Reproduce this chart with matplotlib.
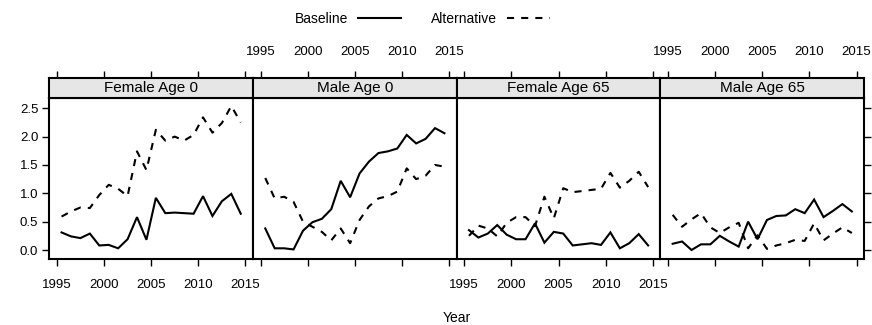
import matplotlib
matplotlib.use("Agg")
import matplotlib.pyplot as plt
from matplotlib.lines import Line2D
import numpy as np

plt.rcParams['font.family'] = ['Liberation Sans', 'DejaVu Sans']

# ---- data ----
years = list(range(1995, 2015))
panels = ["Female Age 0", "Male Age 0", "Female Age 65", "Male Age 65"]
female0_base = [0.31, 0.24, 0.21, 0.29, 0.08, 0.09, 0.03, 0.19, 0.58, 0.18, 0.92, 0.65, 0.66, 0.65, 0.64, 0.95, 0.60, 0.86, 0.99, 0.64]
female0_alt = [0.59, 0.68, 0.75, 0.74, 0.97, 1.15, 1.08, 0.95, 1.74, 1.41, 2.12, 1.93, 2.00, 1.93, 2.03, 2.34, 2.07, 2.24, 2.54, 2.25]
male0_base = [0.38, 0.03, 0.03, 0.01, 0.34, 0.49, 0.55, 0.72, 1.22, 0.93, 1.35, 1.56, 1.71, 1.74, 1.79, 2.03, 1.88, 1.96, 2.15, 2.06]
male0_alt = [1.27, 0.91, 0.94, 0.85, 0.50, 0.41, 0.32, 0.17, 0.38, 0.12, 0.53, 0.77, 0.91, 0.95, 1.03, 1.44, 1.25, 1.31, 1.50, 1.47]
female65_base = [0.35, 0.22, 0.29, 0.44, 0.27, 0.19, 0.19, 0.47, 0.13, 0.32, 0.29, 0.08, 0.10, 0.12, 0.09, 0.31, 0.03, 0.12, 0.28, 0.08]
female65_alt = [0.25, 0.43, 0.38, 0.24, 0.48, 0.58, 0.58, 0.42, 0.94, 0.56, 1.09, 1.02, 1.04, 1.06, 1.08, 1.36, 1.10, 1.22, 1.38, 1.11]
male65_base = [0.11, 0.15, 0.00, 0.10, 0.10, 0.25, 0.15, 0.06, 0.50, 0.19, 0.53, 0.60, 0.61, 0.72, 0.65, 0.89, 0.58, 0.69, 0.81, 0.68]
male65_alt = [0.62, 0.41, 0.54, 0.65, 0.40, 0.30, 0.40, 0.48, 0.03, 0.26, 0.02, 0.08, 0.12, 0.18, 0.16, 0.47, 0.17, 0.29, 0.40, 0.30]
baseline = [female0_base, male0_base, female65_base, male65_base]
alternative = [female0_alt, male0_alt, female65_alt, male65_alt]
xticks = [1995, 2000, 2005, 2010, 2015]
yticks = [0.0, 0.5, 1.0, 1.5, 2.0, 2.5]

W, H = 872, 325
fig = plt.figure(figsize=(W / 100, H / 100), dpi=100)

left0 = 49.3
pw = 203.7
ptop, pbot = 97.5, 259.3
stop = 77.7
dash = (0, (3.4, 3.4))
lw = 1.5
tickfs = 9.5

x = np.array(years) + 0.5
for i, name in enumerate(panels):
    l = (left0 + i * pw) / W
    ax = fig.add_axes([l, 1 - pbot / H, pw / W, (pbot - ptop) / H])
    ax.plot(x, baseline[i], color='black', lw=lw, solid_joinstyle='miter')
    ax.plot(x, alternative[i], color='black', lw=lw, linestyle=dash)
    ax.set_xlim(1994.2, 2015.8)
    ax.set_ylim(-0.164, 2.69)
    for s in ax.spines.values():
        s.set_linewidth(1.5)
    ax.set_xticks(xticks)
    ax.set_yticks(yticks)
    ax.tick_params(axis='both', direction='out', length=5, width=1, labelsize=tickfs, pad=3)
    ax.tick_params(axis='x', bottom=True, top=False, labelbottom=(i % 2 == 0), labeltop=False, pad=9)
    ax.tick_params(axis='y', left=(i == 0), right=(i == 3), labelleft=(i == 0), labelright=False)
    if i == 0:
        ax.set_yticklabels([f"{v:.1f}" for v in yticks])

    sax = fig.add_axes([l, 1 - ptop / H, pw / W, (ptop - stop) / H])
    sax.set_facecolor('#e6e6e6')
    sax.set_xlim(1994.2, 2015.8)
    sax.set_yticks([])
    sax.set_xticks(xticks)
    sax.tick_params(axis='x', direction='out', length=5, width=1, bottom=False, top=True,
                    labelbottom=False, labeltop=(i % 2 == 1), labelsize=tickfs, pad=9)
    for s in sax.spines.values():
        s.set_linewidth(1.5)
    sax.text(0.5, 0.5, name, transform=sax.transAxes, ha='center', va='center', fontsize=11)

handles = [Line2D([], [], color='black', lw=lw),
           Line2D([], [], color='black', lw=lw, linestyle=dash)]
fig.legend(handles, ["Baseline", "Alternative"], loc='center', bbox_to_anchor=(0.4845, 0.943),
           ncol=2, markerfirst=False, frameon=False, handlelength=3.1, handletextpad=0.7,
           columnspacing=2.2, fontsize=10)

fig.text((left0 + 2 * pw) / W, 1 - 318 / H, "Year", ha='center', va='center', fontsize=10)

fig.savefig("out.png", dpi=100)
